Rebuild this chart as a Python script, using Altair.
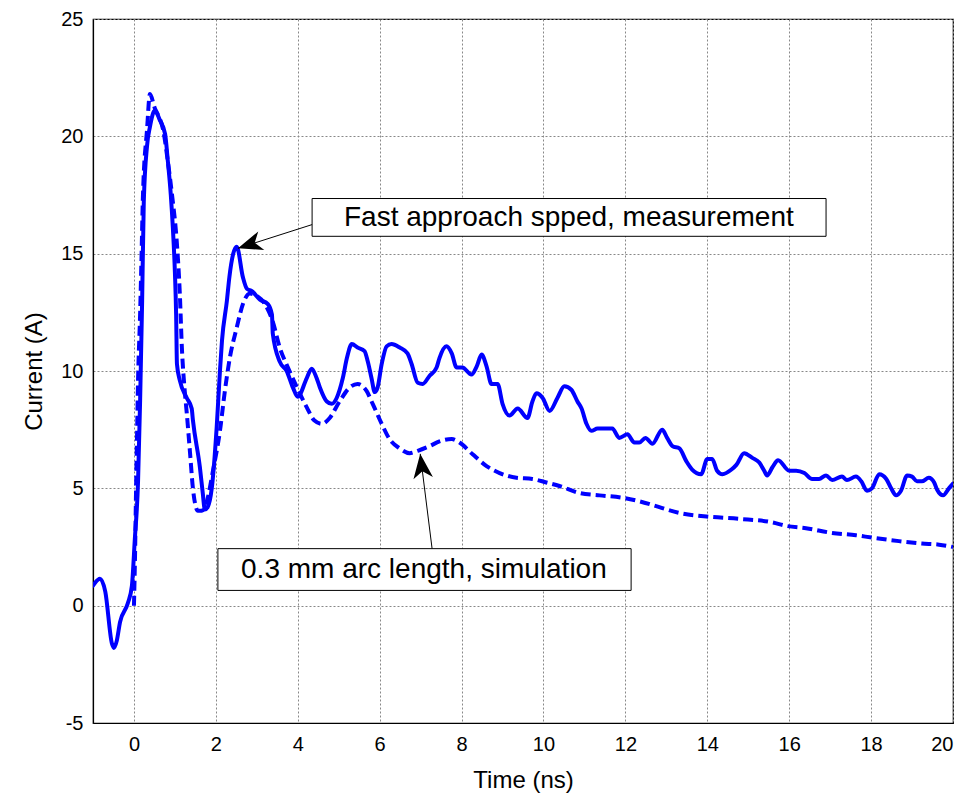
import altair as alt
import pandas as pd

# ---- data ----
meas_t = [-1.0, -0.83, -0.7, -0.54, -0.49, -0.42, -0.34, -0.15, -0.05, 0.02, 0.1, 0.15, 0.2, 0.24,
          0.32, 0.39, 0.51, 0.63, 0.76, 0.83, 0.9, 0.95, 1.0, 1.03, 1.05, 1.12, 1.29, 1.41, 1.44,
          1.61, 1.68, 1.73, 1.8, 1.9, 2.02, 2.1, 2.15, 2.27, 2.33, 2.51, 2.66, 2.76, 2.88, 3.07,
          3.27, 3.37, 3.39, 3.56, 3.73, 3.88, 4.0, 4.22, 4.34, 4.46, 4.54, 4.71, 4.83, 4.95, 5.1,
          5.2, 5.32, 5.46, 5.63, 5.71, 5.8, 5.88, 5.95, 6.05, 6.17, 6.29, 6.49, 6.68, 6.78, 6.93,
          7.05, 7.22, 7.39, 7.46, 7.63, 7.76, 7.88, 8.02, 8.24, 8.37, 8.49, 8.61, 8.73, 8.88, 9.0,
          9.17, 9.37, 9.61, 9.73, 9.83, 9.98, 10.15, 10.34, 10.51, 10.68, 10.83, 10.93, 11.05,
          11.17, 11.32, 11.68, 11.85, 12.05, 12.22, 12.34, 12.49, 12.66, 12.9, 13.02, 13.15,
          13.32, 13.49, 13.63, 13.85, 14.0, 14.12, 14.24, 14.37, 14.59, 14.71, 14.9, 15.1, 15.27,
          15.39, 15.46, 15.59, 15.73, 16.0, 16.17, 16.37, 16.56, 16.73, 16.9, 17.05, 17.29,
          17.41, 17.63, 17.76, 17.9, 18.02, 18.2, 18.37, 18.49, 18.61, 18.73, 18.88, 19.0,
          19.12, 19.24, 19.41, 19.54, 19.61, 19.76, 19.9, 20.0]
meas_i = [0.85, 1.15, 0.6, -1.6, -1.8, -1.5, -0.7, 0.1, 0.85, 2.8, 5.3, 8.7, 13.0, 17.2,
          19.6, 20.4, 21.1, 20.7, 20.1, 18.9, 17.5, 16.1, 14.2, 12.4, 10.3, 9.6, 8.85, 8.4, 7.9,
          5.9, 4.8, 4.1, 4.2, 5.0, 7.6, 10.0, 11.3, 13.0, 14.0, 15.3, 14.0, 13.5, 13.4, 13.05,
          12.85, 12.4, 11.6, 10.4, 10.0, 9.3, 8.9, 9.7, 10.1, 9.7, 9.3, 8.7, 8.6, 8.85, 9.7,
          10.55, 11.15, 11.0, 10.85, 10.4, 9.7, 9.1, 9.3, 10.3, 11.05, 11.15, 11.0, 10.75, 10.3, 9.5,
          9.45, 9.8, 10.15, 10.55, 11.05, 10.75, 10.15, 10.15, 9.85, 10.2, 10.7, 10.2, 9.45, 9.45, 8.6,
          8.1, 8.4, 8.0, 8.7, 9.05, 8.85, 8.3, 8.85, 9.35, 9.2, 8.7, 8.4, 7.75,
          7.45, 7.55, 7.55, 7.15, 7.3, 6.95, 6.95, 7.15, 6.9, 7.5, 7.15, 6.8,
          6.7, 6.15, 5.8, 5.6, 6.25, 6.25, 5.75, 5.6, 5.8, 6.0, 6.5, 6.3, 6.1,
          5.75, 5.55, 5.9, 6.2, 5.75, 5.75, 5.65, 5.4, 5.4, 5.55, 5.35, 5.5,
          5.35, 5.5, 5.3, 4.9, 5.0, 5.6, 5.4, 5.0, 4.7, 4.9, 5.55, 5.5,
          5.3, 5.3, 5.45, 5.25, 4.95, 4.7, 5.0, 5.2]

sim_t = [0.0, 0.03, 0.05, 0.07, 0.1, 0.15, 0.18, 0.22, 0.32, 0.39, 0.51, 0.59, 0.71, 0.83, 0.93,
         1.05, 1.12, 1.17, 1.24, 1.29, 1.37, 1.44, 1.56, 1.66, 1.78, 1.93, 2.1, 2.22, 2.34, 2.51,
         2.66, 2.83, 3.0, 3.2, 3.39, 3.56, 3.76, 3.98, 4.22, 4.4, 4.59, 4.78, 5.02, 5.27, 5.46,
         5.68, 5.83, 6.05, 6.24, 6.49, 6.73, 6.93, 7.22, 7.46, 7.76, 7.95, 8.27, 8.61, 8.93, 9.34,
         9.73, 10.07, 10.39, 10.88, 11.37, 11.93, 12.34, 12.83, 13.32, 13.98, 14.78, 15.59,
         15.93, 16.41, 17.05, 17.63, 18.02, 18.68, 19.24, 19.66, 20.0]
sim_i = [0.0, 2.5, 4.8, 6.7, 9.6, 12.4, 14.5, 17.5, 20.3, 21.8, 21.2, 20.9, 20.3, 18.9, 17.5,
         15.4, 13.3, 11.0, 9.15, 8.2, 6.5, 5.0, 4.05, 4.05, 4.45, 5.75, 7.45, 9.15, 10.55, 11.85,
         12.85, 13.3, 13.2, 12.85, 12.1, 11.0, 10.15, 9.3, 8.45, 7.9, 7.75, 8.0, 8.7, 9.3, 9.45,
         9.15, 8.6, 7.75, 7.1, 6.7, 6.5, 6.6, 6.8, 7.0, 7.1, 6.95, 6.45, 5.95, 5.65, 5.45,
         5.4, 5.25, 5.1, 4.8, 4.7, 4.6, 4.45, 4.2, 3.95, 3.8, 3.7, 3.55,
         3.4, 3.3, 3.1, 3.0, 2.9, 2.75, 2.65, 2.6, 2.5]

x_ticks = list(range(0, 21, 2))
y_ticks = list(range(-5, 26, 5))

# annotations
ann_text = ["Fast approach spped, measurement", "0.3 mm arc length, simulation"]
ann_x = [10.62, 7.08]
ann_y = [16.54, 1.54]
box_x1 = [4.35, 2.05]
box_x2 = [16.90, 12.14]
box_y1 = [15.74, 0.65]
box_y2 = [17.35, 2.43]
arrow_tail_x = [4.37, 7.28]
arrow_tail_y = [16.25, 2.43]
arrow_tip_x = [2.54, 6.99]
arrow_tip_y = [15.23, 6.47]
arrow_angle = [252, 353]

FONT = "Liberation Sans"

meas = pd.DataFrame({"t": meas_t, "i": meas_i})
sim = pd.DataFrame({"t": sim_t, "i": sim_i})
ann = pd.DataFrame({"text": ann_text, "x": ann_x, "y": ann_y,
                    "bx1": box_x1, "bx2": box_x2, "by1": box_y1, "by2": box_y2,
                    "tx": arrow_tail_x, "ty": arrow_tail_y,
                    "hx": arrow_tip_x, "hy": arrow_tip_y, "ang": arrow_angle})

xscale = alt.Scale(domain=[-1, 20], nice=False, zero=False)
yscale = alt.Scale(domain=[-5, 25], nice=False, zero=False)

xax = alt.Axis(values=x_ticks, title="Time (ns)", grid=True, ticks=False,
               labelPadding=11, titlePadding=14, labelExpr="'' + datum.value")
yax = alt.Axis(values=y_ticks, title="Current (A)", grid=True, ticks=False,
               labelPadding=10, titlePadding=14, labelExpr="'' + datum.value")

base_x = alt.X("t:Q", scale=xscale, axis=xax)
base_y = alt.Y("i:Q", scale=yscale, axis=yax)

line_meas = alt.Chart(meas).mark_line(color="#0000FF", strokeWidth=4, clip=True,
                                      interpolate="monotone", strokeJoin="round",
                                      strokeCap="round").encode(x=base_x, y=base_y)
line_sim = alt.Chart(sim).mark_line(color="#0000FF", strokeWidth=4, strokeDash=[10, 5],
                                    interpolate="monotone", clip=True).encode(
    x=alt.X("t:Q", scale=xscale), y=alt.Y("i:Q", scale=yscale))

arrows = alt.Chart(ann).mark_rule(color="black", strokeWidth=1).encode(
    x=alt.X("tx:Q", scale=xscale), y=alt.Y("ty:Q", scale=yscale),
    x2="hx:Q", y2="hy:Q")

heads = alt.Chart(ann).mark_point(
    shape="M0,0 L0.4,1 L0,0.72 L-0.4,1 Z", filled=True, color="black", opacity=1,
    size=2400, strokeWidth=0).encode(
    x=alt.X("hx:Q", scale=xscale), y=alt.Y("hy:Q", scale=yscale),
    angle=alt.Angle("ang:Q", scale=None))

boxes = alt.Chart(ann).mark_rect(fill="white", stroke="black", strokeWidth=1).encode(
    x=alt.X("bx1:Q", scale=xscale), x2="bx2:Q",
    y=alt.Y("by1:Q", scale=yscale), y2="by2:Q")

texts = alt.Chart(ann).mark_text(font=FONT, fontSize=28, color="black",
                                 align="center", baseline="middle").encode(
    x=alt.X("x:Q", scale=xscale), y=alt.Y("y:Q", scale=yscale), text="text:N")

chart = alt.layer(line_meas, line_sim, arrows, heads, boxes, texts).properties(
    width=860, height=704,
    background="white",
    autosize=alt.AutoSizeParams(type="none"),
    padding={"left": 85, "top": 11, "right": 12, "bottom": 76},
).configure_view(stroke="black", strokeWidth=1.2).configure_axis(
    labelFont=FONT, titleFont=FONT, labelFontSize=20, titleFontSize=24,
    labelColor="black", titleColor="black", titleFontWeight="normal",
    domainColor="black", domainWidth=1.2,
    gridColor="#888888", gridDash=[2, 2], gridWidth=1,
)

chart.save("out.html", embed_options={"renderer": "svg", "actions": False})
